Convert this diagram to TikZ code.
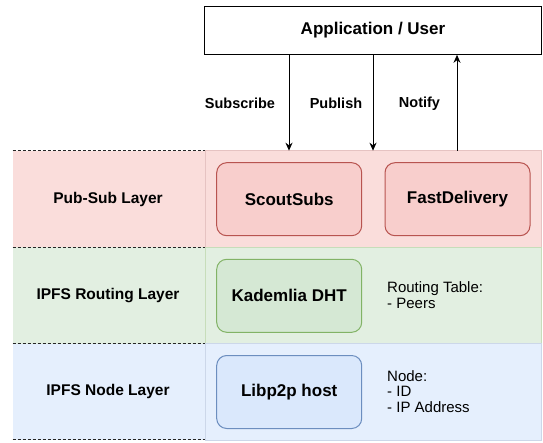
\documentclass[tikz,border=0pt]{standalone}
\usepackage{fontspec}
\setmainfont{Liberation Sans}
\usetikzlibrary{arrows.meta}
\definecolor{psband}{RGB}{250,221,219}
\definecolor{psbox}{HTML}{F8CECC}
\definecolor{psline}{HTML}{B85450}
\definecolor{rtband}{RGB}{226,239,225}
\definecolor{rtbox}{HTML}{D5E8D4}
\definecolor{rtline}{HTML}{82B366}
\definecolor{ndband}{RGB}{229,239,253}
\definecolor{ndbox}{HTML}{DAE8FC}
\definecolor{ndline}{HTML}{6C8EBF}
\tikzset{
  bandbox/.style={anchor=north west, minimum width=336pt, minimum height=96.6pt, inner sep=0pt, outer sep=0pt, line width=1pt},
  compbox/.style={rounded corners=10pt, minimum width=145pt, minimum height=73pt, line width=1pt, font=\fontsize{17}{20}\selectfont\bfseries, inner sep=0pt},
  layerlabel/.style={font=\fontsize{15.5}{18}\selectfont\bfseries, inner sep=0pt},
  arrowlabel/.style={font=\fontsize{14.5}{17}\selectfont\bfseries, inner sep=0pt},
  infotext/.style={font=\fontsize{15}{15.5}\selectfont, align=left, anchor=west, inner sep=0pt},
  sepline/.style={dash pattern=on 3pt off 2pt, line width=1pt, black!85},
  flow/.style={line width=1pt, -{Stealth[length=8pt,width=7pt]}}
}
\begin{document}
\begin{tikzpicture}[x=1pt,y=-1pt]
\useasboundingbox (0,0) rectangle (543,443);
% left label areas
\fill[psband] (12.7,150.7) rectangle (205,247.3);
\fill[rtband] (12.7,247.3) rectangle (205,343.6);
\fill[ndband] (12.7,343.6) rectangle (205,439.6);
% bands
\node[bandbox, fill=psband, draw=psline!35] (psb) at (205,150.7) {};
\node[bandbox, fill=rtband, draw=rtline!45] (rtb) at (205,247.3) {};
\node[bandbox, fill=ndband, draw=ndline!35] (ndb) at (205,343.6) {};
% dashed separators
\draw[sepline] (12.7,150.7) -- (205,150.7);
\draw[sepline] (12.7,247.3) -- (205,247.3);
\draw[sepline] (12.7,343.6) -- (205,343.6);
\draw[sepline] (12.7,439.6) -- (205,439.6);
% layer labels
\node[layerlabel] (l1) at (108,199) {Pub-Sub Layer};
\node[layerlabel] (l2) at (108,295.5) {IPFS Routing Layer};
\node[layerlabel] (l3) at (108,391.6) {IPFS Node Layer};
% application
\node[draw, line width=1pt, fill=white, minimum width=337.4pt, minimum height=47.6pt, inner sep=0pt, font=\fontsize{17}{20}\selectfont\bfseries] (app) at (373,30.5) {Application / User};
% components
\node[compbox, fill=psbox, draw=psline] (scout) at (289.2,199.2) {ScoutSubs};
\node[compbox, fill=psbox, draw=psline] (fast) at (457.5,199.2) {FastDelivery};
\node[compbox, fill=rtbox, draw=rtline] (kad) at (289.2,295.8) {Kademlia DHT};
\node[compbox, fill=ndbox, draw=ndline] (libp) at (289.2,392) {Libp2p host};
% info texts
\node[infotext] (rtinfo) at (387,295.3) {Routing Table:\\- Peers};
\node[infotext] (ndinfo) at (387,391.3) {Node:\\- ID\\- IP Address};
% arrows
\coordinate (subx) at (289,0);
\coordinate (pubx) at (373,0);
\coordinate (notx) at (457,0);
\draw[flow] (app.south -| subx) -- (psb.north -| subx);
\draw[flow] (app.south -| pubx) -- (psb.north -| pubx);
\draw[flow] (psb.north -| notx) -- (app.south -| notx);
\node[arrowlabel] (lsub) at (240,103.3) {Subscribe};
\node[arrowlabel] (lpub) at (336,103.3) {Publish};
\node[arrowlabel] (lnot) at (419.5,103.3) {Notify};
\end{tikzpicture}
\end{document}
